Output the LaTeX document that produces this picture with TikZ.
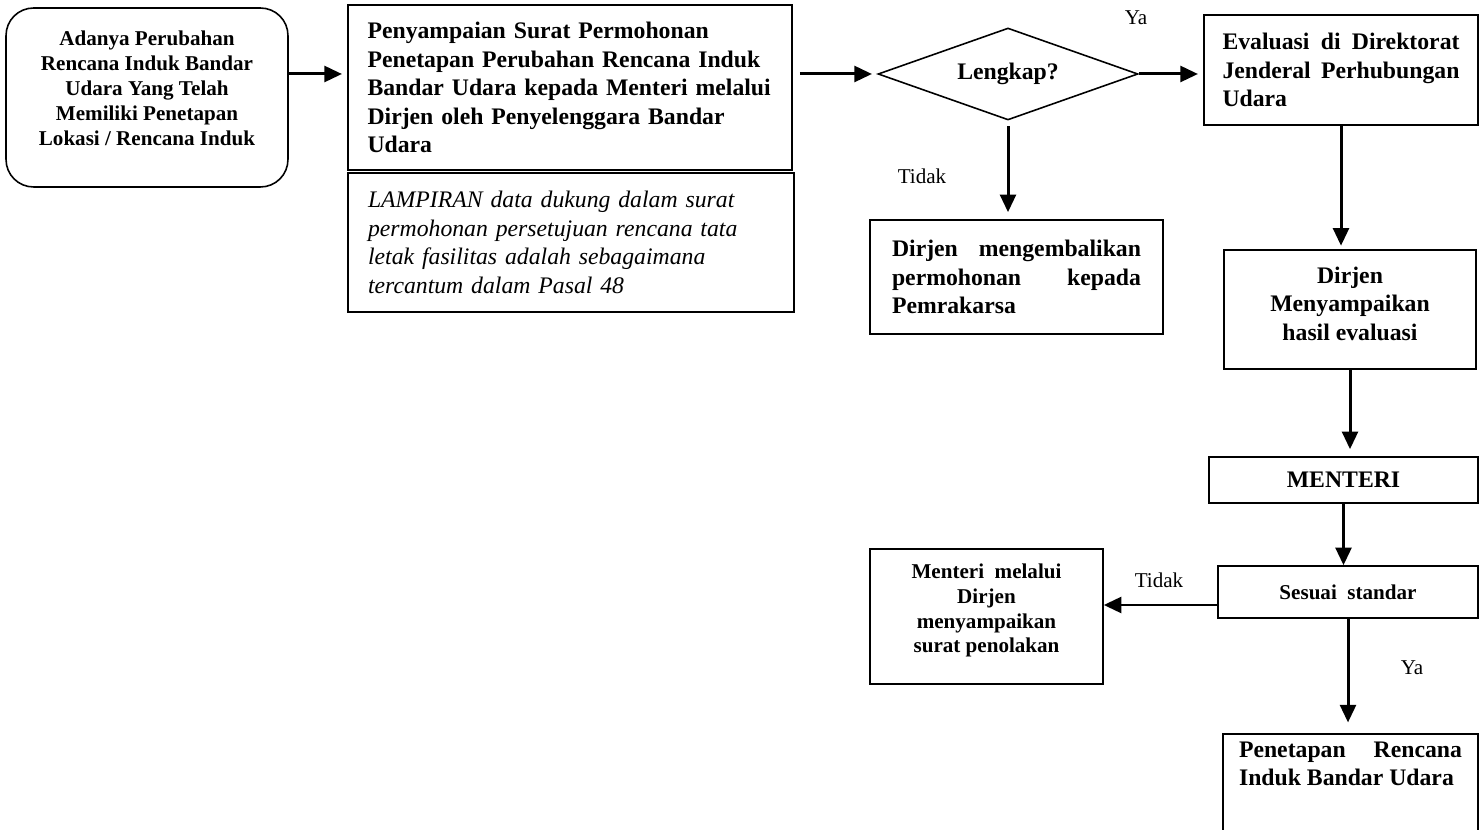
\documentclass[tikz,border=0pt]{standalone}
\usepackage{fontspec}
\setmainfont{Liberation Serif}
\usetikzlibrary{positioning,shapes.geometric,arrows.meta,calc}

\begin{document}
\begin{tikzpicture}[x=0.02cm,y=-0.02cm,
  kotak/.style={draw, rectangle, line width=0.9pt, inner ysep=2pt},
  arr/.style={-{Triangle[length=10pt,width=9pt]}, line width=1.7pt},
  besar/.style={font=\fontsize{13.5}{16.2}\selectfont\bfseries},
  kecil/.style={font=\fontsize{12}{14.2}\selectfont\bfseries},
  ket/.style={font=\fontsize{12}{14}\selectfont}]
  \useasboundingbox (0,0) rectangle (1481,830);
  \node (adanya) [kotak, kecil, rounded corners=0.55cm, align=center, text depth=0.36cm, minimum width=5.64cm, minimum height=3.58cm] at (147,97.5) {Adanya Perubahan\\Rencana Induk Bandar\\Udara Yang Telah\\Memiliki Penetapan\\Lokasi / Rencana Induk};
  \node (surat) [kotak, besar, align=left, text width=8.1cm, inner xsep=0.39cm, minimum height=3.3cm] at (570,87.5) {Penyampaian Surat Permohonan\\Penetapan Perubahan Rencana Induk\\Bandar Udara kepada Menteri melalui\\Dirjen oleh Penyelenggara Bandar\\Udara};
  \node (lampiran) [kotak, font=\fontsize{13.5}{16.2}\selectfont\itshape, align=left, text width=8.12cm, inner xsep=0.4cm, minimum height=2.78cm] at (571,242.5) {LAMPIRAN data dukung dalam surat\\permohonan persetujuan rencana tata\\letak fasilitas adalah sebagaimana\\tercantum dalam Pasal 48};
  \node (cek) [draw, diamond, line width=0.9pt, besar, aspect=2.8, minimum width=5.2cm, minimum height=1.84cm, inner sep=0pt] at (1008,74) {Lengkap?};
  \node (eval) [kotak, besar, align=justify, text width=4.74cm, inner xsep=0.37cm, minimum height=2.2cm] at (1341,70) {Evaluasi di Direktorat\linebreak Jenderal Perhubungan\linebreak Udara};
  \node (kembali) [kotak, besar, align=justify, text width=4.98cm, inner xsep=0.44cm, minimum height=2.28cm] at (1016.5,277) {Dirjen mengembalikan\linebreak permohonan kepada\linebreak Pemrakarsa};
  \node (hasil) [kotak, besar, align=center, text depth=0.24cm, minimum width=5.04cm, minimum height=2.38cm] at (1350,309.5) {Dirjen\\Menyampaikan\\hasil evaluasi};
  \node (menteri) [kotak, besar, minimum width=5.38cm, minimum height=0.92cm] at (1343.5,480) {MENTERI};
  \node (sesuai) [kotak, kecil, minimum width=5.2cm, minimum height=1.04cm] at (1348,592) {Sesuai\ \ standar};
  \node (tolak) [kotak, kecil, align=center, text depth=0.33cm, minimum width=4.66cm, minimum height=2.7cm] at (986.5,616.5) {Menteri\ \ melalui\\Dirjen\\menyampaikan\\surat penolakan};
  \node (tetap) [kotak, besar, anchor=north, align=justify, text width=4.46cm, inner xsep=0.32cm, inner ysep=0.16cm, text depth=2cm] at (1350.5,733) {Penetapan Rencana\linebreak Induk Bandar Udara};
  % keterangan
  \node (ya1) [ket] at (1136,18) {Ya};
  \node (tidak1) [ket] at (922,176) {Tidak};
  \node (tidak2) [ket] at (1159,580) {Tidak};
  \node (ya2) [ket] at (1412,668) {Ya};
  % panah
  \path[arr]
    (adanya.east |- cek) edge [shorten >=3pt] (surat.west |- cek)
    (surat.east |- cek) edge [shorten <=4pt, shorten >=3pt] (cek.west)
    (cek.east) edge [shorten >=3pt] (eval.west |- cek)
    (cek.south) edge [shorten <=3pt, shorten >=4pt] (cek.south |- kembali.north)
    (eval.south) edge [shorten >=2pt] (eval.south |- hasil.north)
    (hasil.south) edge [shorten >=4pt] (hasil.south |- menteri.north)
    (menteri.south) edge (menteri.south |- sesuai.north)
    ($(sesuai.west)+(0,13)$) edge ($(sesuai.west -| tolak.east)+(0,13)$)
    (sesuai.south) edge [shorten >=6pt] (sesuai.south |- tetap.north);
\end{tikzpicture}
\end{document}
